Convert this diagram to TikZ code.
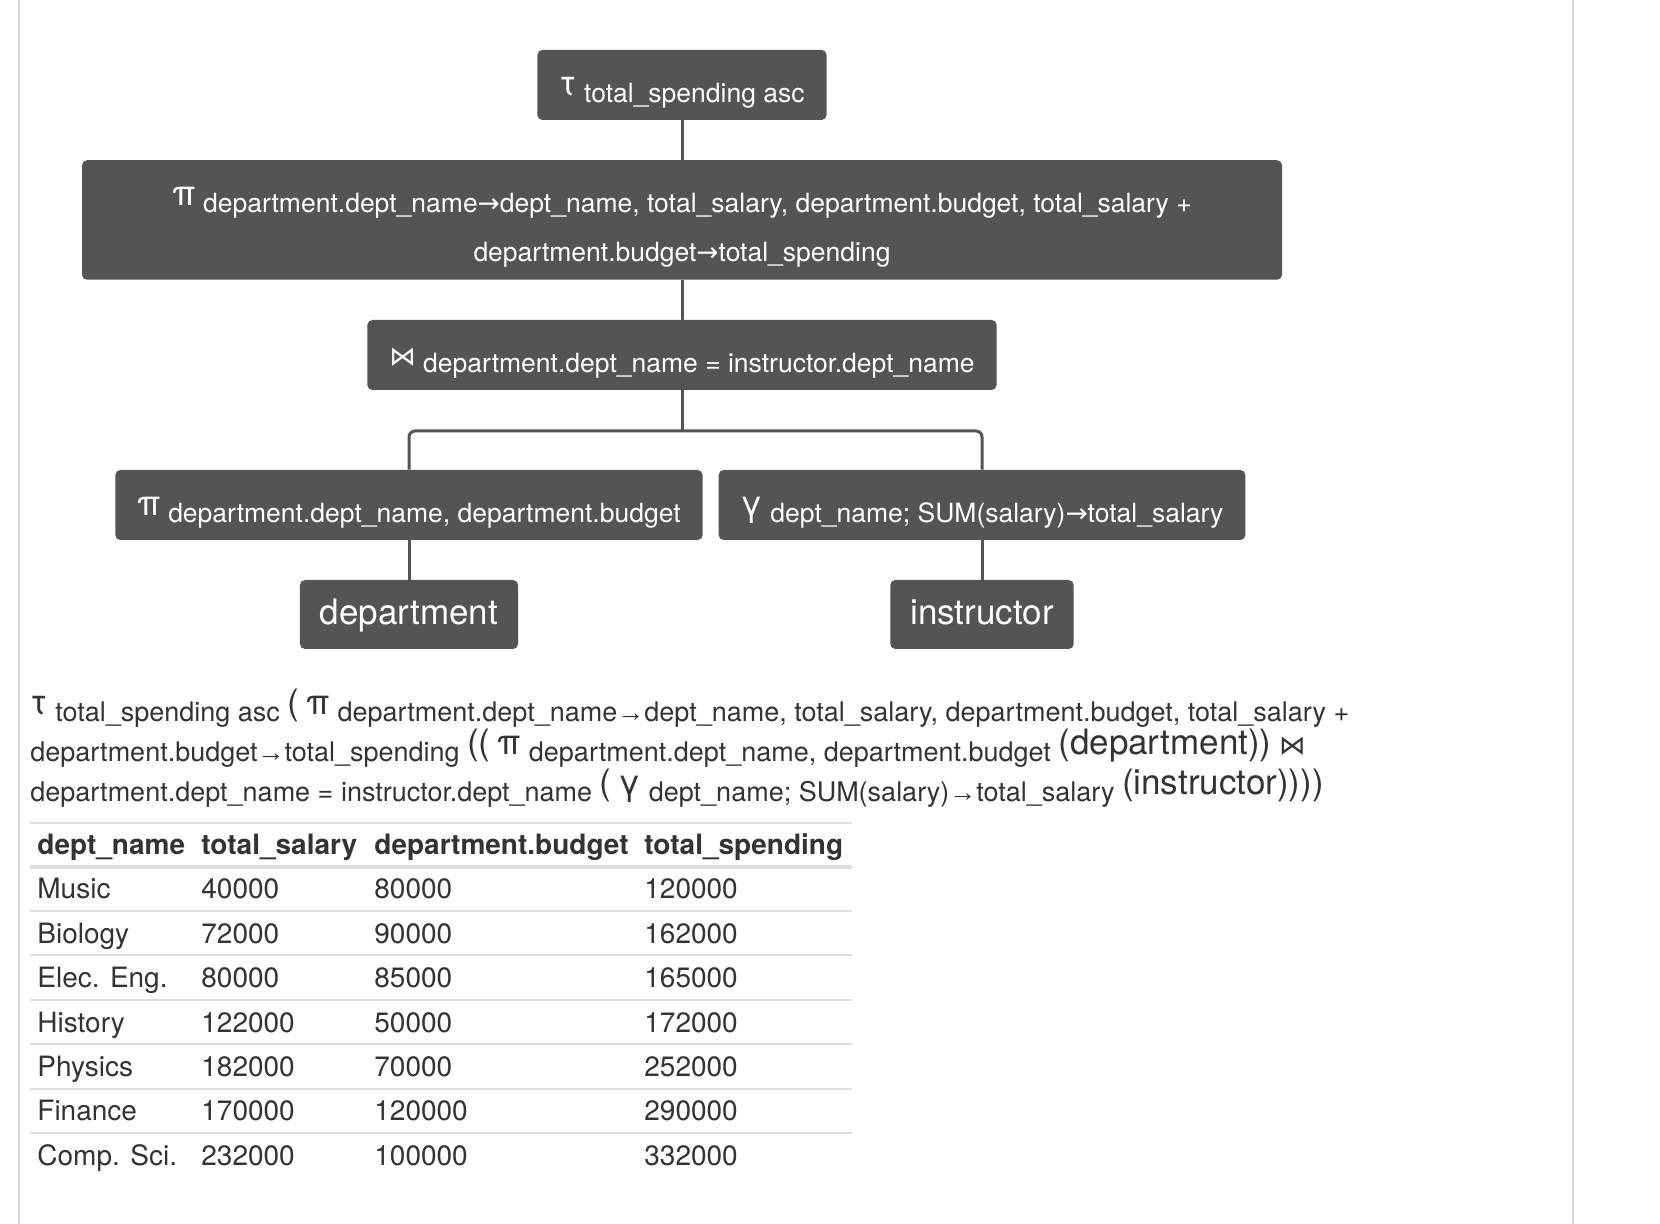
\documentclass[tikz,border=0pt]{standalone}
\usepackage{fontspec}
\setmainfont{TeX Gyre Heros}
\newfontfamily\symfont{DejaVu Sans}
\newfontfamily\arrfont{Liberation Sans}
\usetikzlibrary{positioning}
\definecolor{qryBox}{RGB}{84,84,84}
\definecolor{qryInk}{RGB}{51,51,51}
\definecolor{qryRule}{RGB}{221,221,221}
\definecolor{qryFrame}{RGB}{214,214,214}
\newcommand{\qrysub}{\fontsize{13.25}{16}\selectfont}
\newcommand{\qrybase}{\fontsize{17.5}{20}\selectfont}
\newcommand{\qryop}[1]{\raisebox{3.5pt}{\qrybase #1}}
\newcommand{\qryjoin}{\raisebox{3.5pt}{\qrysub\symfont ⋈}}
\newcommand{\qryarr}{{\symfont →}}
\newcommand{\qryto}{{\arrfont →}}
\tikzset{
  opbox/.style={fill=qryBox,text=white,rounded corners=2.5pt,inner xsep=11pt,inner ysep=0pt,
    font=\qrysub,minimum height=35pt,text height=20.5pt,text depth=2.8pt},
  leafbox/.style={fill=qryBox,text=white,rounded corners=2.5pt,inner xsep=10pt,
    font=\qrybase,minimum height=34.5pt,text height=13pt,text depth=2.6pt},
  wire/.style={draw=qryBox,line width=1.5pt},
  exprline/.style={anchor=base west,inner sep=0pt,text=qryInk,font=\fontsize{13.5}{16}\selectfont},
  cellhead/.style={anchor=base west,inner sep=0pt,text=qryInk,font=\fontsize{14}{16}\selectfont\bfseries},
  cell/.style={anchor=base west,inner sep=0pt,text=qryInk,font=\fontsize{14}{16}\selectfont},
  tablerule/.style={draw=qryRule,line width=1pt},
  framerule/.style={draw=qryFrame,line width=1pt},
}
\begin{document}
\begin{tikzpicture}[x=0.5pt,y=-0.5pt]
  \fill[white] (0,0) rectangle (1660,1224);
  \useasboundingbox (0,0) rectangle (1660,1224);
  \draw[framerule] (19,0) -- (19,1224);
  \draw[framerule] (1573,0) -- (1573,1224);

  % Operator tree.
  \node[opbox] (sortop) at (682,85) {\qryop{τ} total\_spending asc};
  \node[opbox,align=center,minimum width=600pt,minimum height=59.75pt,text height=44.5pt,text depth=2.8pt,
    font=\fontsize{13.25}{24.75}\selectfont] (projtop) at (682,220)
    {\qryop{π} department.dept\_name\qryarr dept\_name, total\_salary, department.budget, total\_salary +\\
     department.budget\qryarr total\_spending};
  \node[opbox] (joinop) at (682,355) {\qryjoin\ department.dept\_name = instructor.dept\_name};
  \node[opbox] (projdept) at (409,505) {\qryop{π} department.dept\_name, department.budget};
  \node[opbox] (aggsal) at (982,505) {\qryop{γ} dept\_name; SUM(salary)\qryarr total\_salary};
  \node[leafbox] (deptrel) at (409,614.5) {department};
  \node[leafbox] (instrrel) at (982,614.5) {instructor};

  \coordinate (fork) at (682,431);
  \draw[wire] (sortop) -- (projtop);
  \draw[wire] (projtop) -- (joinop);
  \draw[wire] (joinop) -- (fork);
  \draw[wire,rounded corners=3pt] (projdept) |- (fork) -| (aggsal);
  \draw[wire] (projdept) -- (deptrel);
  \draw[wire] (aggsal) -- (instrrel);

  % The same query written out.
  \node[exprline] (expr1) at (30,721)
    {\qryop{τ} total\_spending asc \qryop{(} \qryop{π} department.dept\_name\qryto dept\_name, total\_salary, department.budget, total\_salary +};
  \node[exprline] (expr2) at (30,761)
    {department.budget\qryto total\_spending \qryop{((} \qryop{π} department.dept\_name, department.budget \qryop{(department))} \qryjoin};
  \node[exprline] (expr3) at (30,801)
    {department.dept\_name = instructor.dept\_name \qryop{(} \qryop{γ} dept\_name; SUM(salary)\qryto total\_salary \qryop{(instructor))))}};

  % Result table.
  \draw[tablerule] (30,822.6) -- (852,822.6);
  \draw[tablerule,line width=2pt] (30,866.5) -- (852,866.5);
  \foreach \r in {1,...,6}
    \draw[tablerule] (30,{866.5+44.4*\r}) -- (852,{866.5+44.4*\r});
  \node[cellhead] (hname) at (37,854.5) {dept\_name};
  \node[cellhead] (hsal) at (201,854.5) {total\_salary};
  \node[cellhead] (hbud) at (374,854.5) {department.budget};
  \node[cellhead] (hspend) at (644,854.5) {total\_spending};
  \foreach \dname/\sal/\bud/\spend [count=\r] in {Music/40000/80000/120000,
      Biology/72000/90000/162000, Elec. Eng./80000/85000/165000,
      History/122000/50000/172000, Physics/182000/70000/252000,
      Finance/170000/120000/290000, Comp. Sci./232000/100000/332000} {
    \node[cell] (name\r) at (37,{854.5+44.4*\r}) {\dname};
    \node[cell] (sal\r) at (201,{854.5+44.4*\r}) {\sal};
    \node[cell] (bud\r) at (374,{854.5+44.4*\r}) {\bud};
    \node[cell] (spend\r) at (644,{854.5+44.4*\r}) {\spend};
  }
\end{tikzpicture}
\end{document}
